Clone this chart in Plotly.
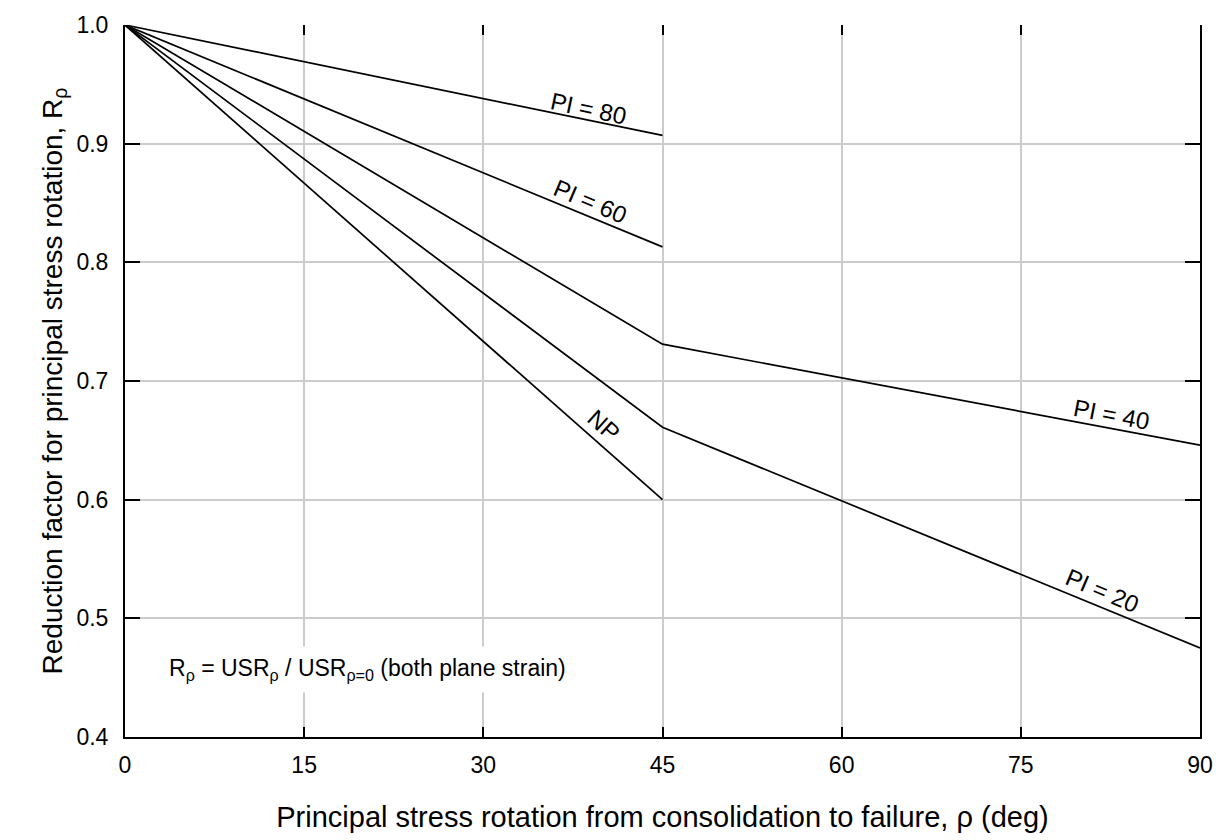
import plotly.graph_objects as go

# Data
x_pi80 = [0, 45]
y_pi80 = [1.0, 0.907]
x_pi60 = [0, 45]
y_pi60 = [1.0, 0.813]
x_pi40 = [0, 45, 90]
y_pi40 = [1.0, 0.731, 0.646]
x_pi20 = [0, 45, 90]
y_pi20 = [1.0, 0.661, 0.475]
x_np = [0, 45]
y_np = [1.0, 0.600]

x_ticks = [0, 15, 30, 45, 60, 75, 90]
y_ticks = [0.4, 0.5, 0.6, 0.7, 0.8, 0.9, 1.0]

# label text, position (data), angle
labels = [
    ("PI = 80", 38.8, 0.926, 12),
    ("PI = 60", 39.0, 0.848, 23),
    ("NP", 40.1, 0.659, 42),
    ("PI = 40", 82.6, 0.668, 11),
    ("PI = 20", 81.8, 0.520, 23),
]

FONT = "Liberation Sans, Arial, sans-serif"

fig = go.Figure()
for xs, ys in [(x_pi80, y_pi80), (x_pi60, y_pi60), (x_pi40, y_pi40),
               (x_pi20, y_pi20), (x_np, y_np)]:
    fig.add_trace(go.Scatter(x=xs, y=ys, mode="lines",
                             line=dict(color="black", width=1.7),
                             showlegend=False, hoverinfo="skip"))

# dummy trace on top axis for top ticks
fig.add_trace(go.Scatter(x=[0, 90], y=[0.4, 0.4], xaxis="x2", mode="lines",
                         line=dict(width=0), showlegend=False, hoverinfo="skip"))

for txt, lx, ly, ang in labels:
    fig.add_annotation(x=lx, y=ly, text=txt, textangle=ang, showarrow=False,
                       yshift=4,
                       font=dict(family=FONT, size=24, color="black"))

fig.add_annotation(x=0.0325, y=0.457, xref="paper", yref="y",
                   xanchor="left", yanchor="middle",
                   text="R<sub>ρ</sub> = USR<sub>ρ</sub> / USR<sub>ρ=0</sub> (both plane strain)",
                   showarrow=False, bgcolor="white", borderpad=8,
                   font=dict(family=FONT, size=23, color="black"))

fig.update_layout(
    width=1225, height=840,
    margin=dict(l=125, r=22, t=20, b=102),
    plot_bgcolor="white", paper_bgcolor="white",
    font=dict(family=FONT, size=23, color="black"),
    xaxis=dict(range=[0, 90], tickvals=x_ticks, ticks="inside", ticklen=10,
               tickwidth=2, tickcolor="black", showline=True, linecolor="black",
               linewidth=2, mirror=False, showgrid=True, gridcolor="#cccccc",
               gridwidth=1.5, zeroline=False, ticklabelstandoff=6,
               title=dict(text="Principal stress rotation from consolidation to failure, ρ (deg)",
                          font=dict(size=29), standoff=30),
               tickfont=dict(size=23)),
    xaxis2=dict(range=[0, 90], tickvals=x_ticks, ticks="inside", ticklen=10,
                tickwidth=2, tickcolor="black", overlaying="x", side="top",
                showticklabels=False, showline=False, showgrid=False,
                zeroline=False),
    yaxis=dict(range=[0.4, 1.0], tickvals=y_ticks, tickformat=".1f",
               ticks="inside", ticklen=15, tickwidth=2, tickcolor="black",
               showline=True, linecolor="black", linewidth=2, mirror="ticks",
               showgrid=True, gridcolor="#cccccc", gridwidth=1.5, zeroline=False,
               ticklabelstandoff=10,
               title=dict(text="Reduction factor for principal stress rotation, R<sub>ρ</sub>",
                          font=dict(size=28), standoff=6),
               tickfont=dict(size=23)),
)

fig.write_html("out.html")
